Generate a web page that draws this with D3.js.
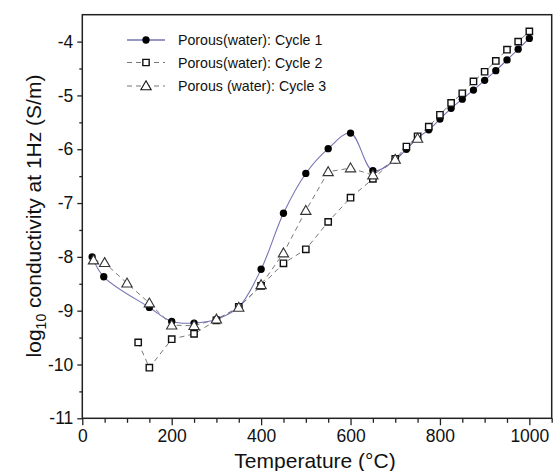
<!DOCTYPE html>
<html>
<head>
<meta charset="utf-8">
<script src="https://cdn.jsdelivr.net/npm/d3@7"></script>
<style>
  body { margin: 0; background: #fff; }
  text { font-family: "Liberation Sans", Arial, sans-serif; fill: #111; }
</style>
</head>
<body>
<script>
// temperatures (°C) and log10 conductivity for each cycle
var temp1 = [22, 48, 150, 200, 250, 300, 350, 400, 450, 500, 550, 600, 650, 700, 725, 750, 775, 800, 825, 850, 875, 900, 925, 950, 975, 1000]
var cycle1 = [-8.00, -8.37, -8.94, -9.20, -9.23, -9.16, -8.93, -8.23, -7.19, -6.45, -5.99, -5.70, -6.40, -6.20, -6.00, -5.79, -5.64, -5.44, -5.24, -5.07, -4.90, -4.72, -4.54, -4.34, -4.14, -3.94]

var temp2 = [125, 150, 200, 250, 300, 350, 400, 450, 500, 550, 600, 650, 700, 725, 750, 775, 800, 825, 850, 875, 900, 925, 950, 975, 1000]
var cycle2 = [-9.59, -10.06, -9.53, -9.43, -9.18, -8.93, -8.54, -8.12, -7.86, -7.35, -6.90, -6.55, -6.18, -5.95, -5.76, -5.58, -5.36, -5.14, -4.96, -4.74, -4.56, -4.36, -4.15, -4.00, -3.81]

var temp3 = [25, 50, 100, 150, 200, 250, 300, 350, 400, 450, 500, 550, 600, 650, 700, 750]
var cycle3 = [-8.06, -8.11, -8.49, -8.86, -9.27, -9.28, -9.16, -8.94, -8.52, -7.93, -7.14, -6.42, -6.35, -6.48, -6.19, -5.80]

var legendLabels = ["Porous(water): Cycle 1", "Porous(water): Cycle 2", "Porous (water): Cycle 3"]
var xTicks = [0, 200, 400, 600, 800, 1000]
var yTicks = [-4, -5, -6, -7, -8, -9, -10, -11]

function zip(t, v) {
  return t.map(function(d, i) { return {x: d, y: v[i]} })
}

function main() {
  width = 558
  height = 471
  left = 82.3
  right = 551.7
  top_ = 14.7
  bottom = 418.3

  svg = d3.select("body").append("svg")
    .attr("width", width)
    .attr("height", height)

  x = d3.scaleLinear().domain([0, 1050]).range([left, right])
  y = d3.scaleLinear().domain([-11, -3.5]).range([bottom, top_])

  // frame
  svg.append("rect")
    .attr("x", left).attr("y", top_)
    .attr("width", right - left).attr("height", bottom - top_)
    .attr("fill", "none").attr("stroke", "#222").attr("stroke-width", 1.5)

  // minor ticks
  var xMinor = d3.range(0, 1051, 50).filter(function(d) { return d % 200 != 0 })
  var yMinor = d3.range(-10.5, -3.5, 1)

  svg.append("g")
    .attr("transform", "translate(0," + bottom + ")")
    .call(d3.axisBottom(x).tickValues(xMinor).tickSize(4.5).tickFormat(""))
    .call(function(g) { g.select(".domain").remove() })
    .selectAll("line").attr("stroke", "#222").attr("stroke-width", 1.3)

  svg.append("g")
    .attr("transform", "translate(" + left + ",0)")
    .call(d3.axisLeft(y).tickValues(yMinor).tickSize(3).tickFormat(""))
    .call(function(g) { g.select(".domain").remove() })
    .selectAll("line").attr("stroke", "#222").attr("stroke-width", 1.3)

  // major ticks
  var xa = svg.append("g")
    .attr("transform", "translate(0," + bottom + ")")
    .call(d3.axisBottom(x).tickValues(xTicks).tickSize(7).tickPadding(4).tickFormat(d3.format("d")))
  xa.select(".domain").remove()
  xa.selectAll("line").attr("stroke", "#222").attr("stroke-width", 1.3)
  xa.selectAll("text").style("font-size", "17.5px").attr("fill", "#111")

  var ya = svg.append("g")
    .attr("transform", "translate(" + left + ",0)")
    .call(d3.axisLeft(y).tickValues(yTicks).tickSize(5).tickPadding(4).tickFormat(function(d) { return d3.format("d")(d).replace("\u2212", "-") }))
  ya.select(".domain").remove()
  ya.selectAll("line").attr("stroke", "#222").attr("stroke-width", 1.3)
  ya.selectAll("text").style("font-size", "17.5px").attr("fill", "#111")

  // axis titles
  svg.append("text")
    .attr("x", 315).attr("y", 468)
    .attr("text-anchor", "middle")
    .style("font-size", "21px")
    .text("Temperature (\u00B0C)")

  var yt = svg.append("text")
    .attr("transform", "translate(41," + 216 + ") rotate(-90)")
    .attr("text-anchor", "middle")
    .style("font-size", "21px")
  yt.append("tspan").text("log")
  yt.append("tspan").attr("dy", 5).style("font-size", "14px").text("10")
  yt.append("tspan").attr("dy", -5).text(" conductivity at 1Hz (S/m)")

  var line = d3.line().x(function(d) { return x(d.x) }).y(function(d) { return y(d.y) })
  var spline = d3.line().x(function(d) { return x(d.x) }).y(function(d) { return y(d.y) }).curve(d3.curveCatmullRom)

  var d1 = zip(temp1, cycle1)
  var d2 = zip(temp2, cycle2)
  var d3_ = zip(temp3, cycle3)

  svg.append("path").datum(d3_).attr("d", line)
    .attr("fill", "none").attr("stroke", "#777").attr("stroke-width", 1).attr("stroke-dasharray", "5,4")
  svg.append("path").datum(d2).attr("d", line)
    .attr("fill", "none").attr("stroke", "#777").attr("stroke-width", 1).attr("stroke-dasharray", "5,4")
  svg.append("path").datum(d1).attr("d", spline)
    .attr("fill", "none").attr("stroke", "#7474b4").attr("stroke-width", 1.1)

  var circle = d3.symbol().type(d3.symbolCircle).size(42)
  var square = d3.symbol().type(d3.symbolSquare).size(40)
  var tri = d3.symbol().type(d3.symbolTriangle).size(46)

  svg.append("g").selectAll("path").data(d1).enter().append("path")
    .attr("transform", function(d) { return "translate(" + x(d.x) + "," + y(d.y) + ")" })
    .attr("d", circle).attr("fill", "#000")

  svg.append("g").selectAll("path").data(d2).enter().append("path")
    .attr("transform", function(d) { return "translate(" + x(d.x) + "," + y(d.y) + ")" })
    .attr("d", square).attr("fill", "#fff").attr("stroke", "#111").attr("stroke-width", 1.4)

  svg.append("g").selectAll("path").data(d3_).enter().append("path")
    .attr("transform", function(d) { return "translate(" + x(d.x) + "," + (y(d.y) + 0.8) + ")" })
    .attr("d", tri).attr("fill", "#fff").attr("stroke", "#333").attr("stroke-width", 1.1)

  // legend
  var lg = svg.append("g")
  var rows = [40, 62.5, 86]
  var syms = [circle, square, tri]
  legendLabels.forEach(function(lab, i) {
    var ly = rows[i]
    var l = lg.append("line")
      .attr("x1", 127).attr("x2", 165).attr("y1", ly).attr("y2", ly)
    if (i == 0) {
      l.attr("stroke", "#7474b4").attr("stroke-width", 1.3)
    } else {
      l.attr("stroke", "#777").attr("stroke-width", 1).attr("stroke-dasharray", "5,4")
    }
    var s = lg.append("path").attr("transform", "translate(146," + (ly + (i == 2 ? 0.8 : 0)) + ")").attr("d", syms[i])
    if (i == 0) s.attr("fill", "#000")
    else s.attr("fill", "#fff").attr("stroke", "#111").attr("stroke-width", i == 1 ? 1.4 : 1.1)
    lg.append("text").attr("x", 178).attr("y", ly + 5)
      .style("font-size", "14.2px").text(lab)
  })
}

main()
</script>
</body>
</html>
